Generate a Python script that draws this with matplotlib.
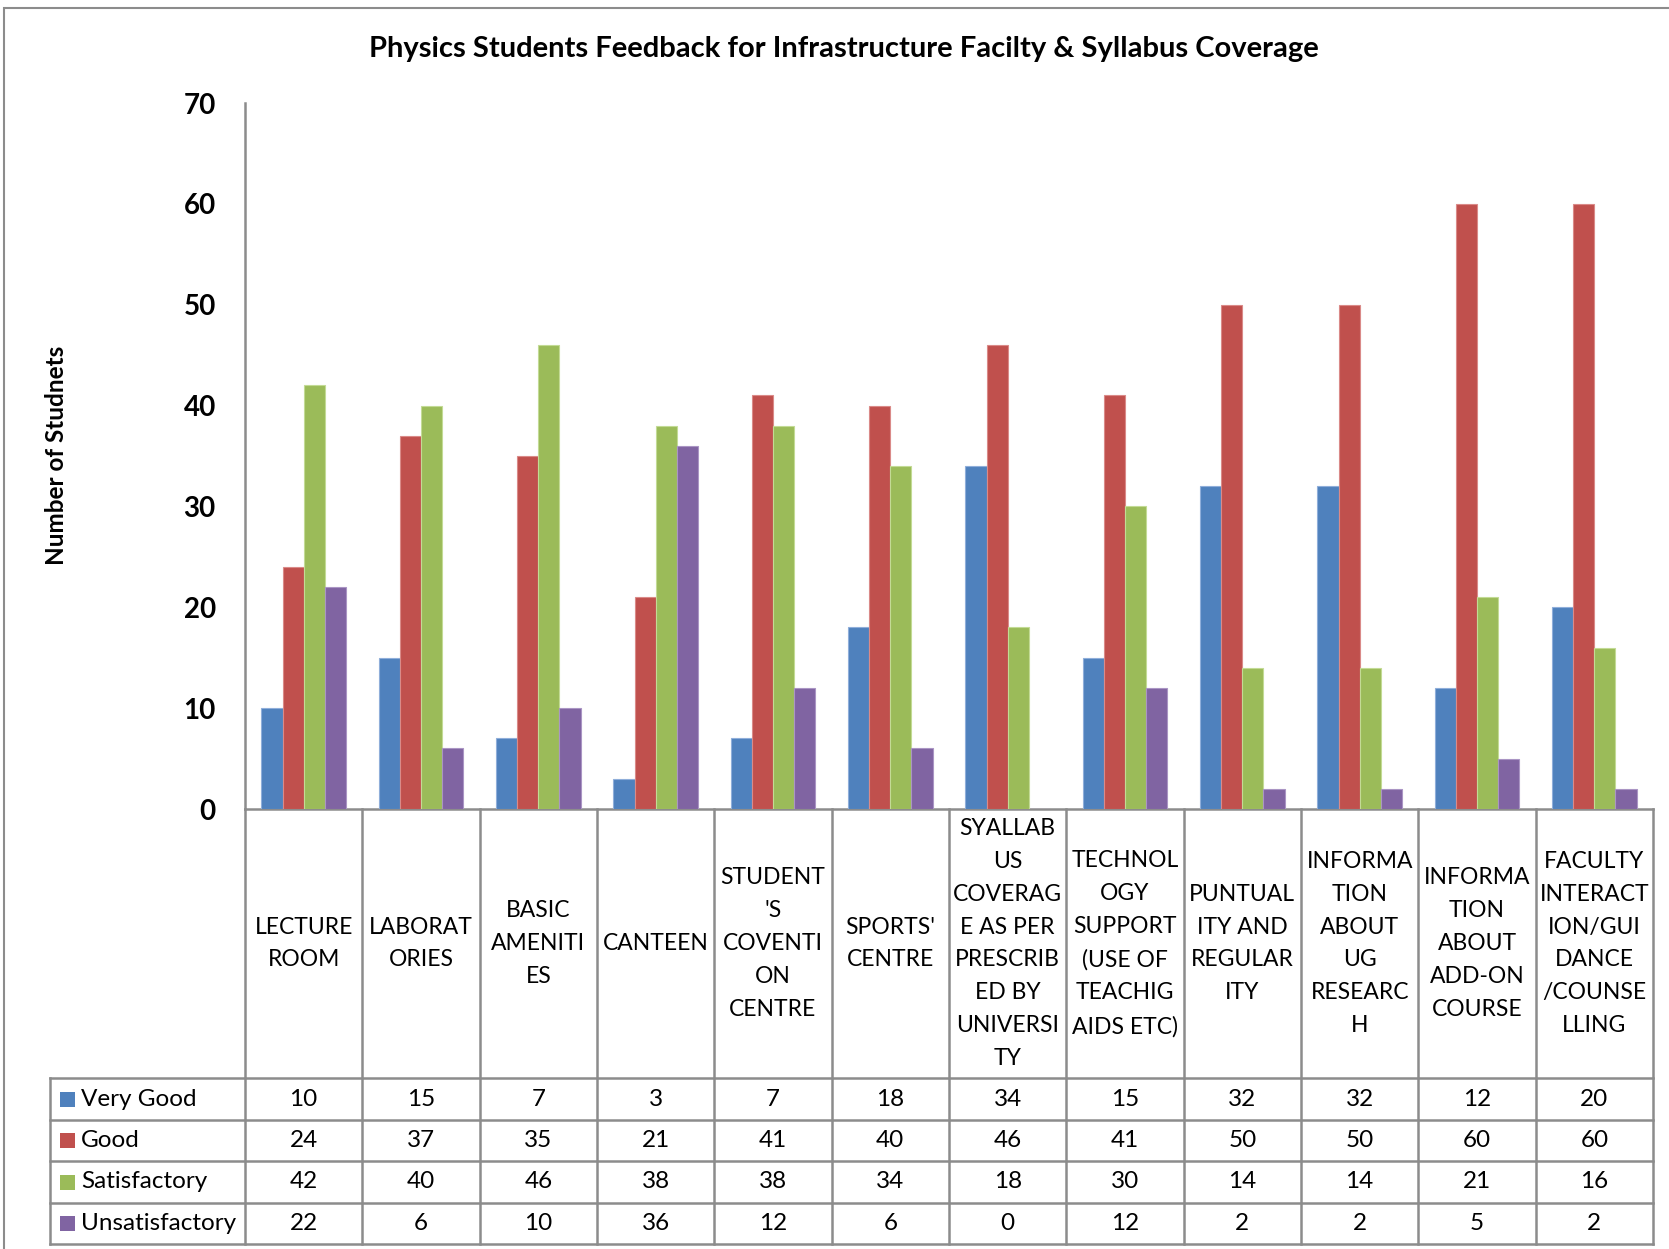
import matplotlib
matplotlib.use("Agg")
import matplotlib.pyplot as plt
import matplotlib.transforms as mtransforms
from matplotlib.patches import Rectangle
from matplotlib.lines import Line2D
import numpy as np

categories = [
    "LECTURE\nROOM",
    "LABORAT\nORIES",
    "BASIC\nAMENITI\nES",
    "CANTEEN",
    "STUDENT\n'S\nCOVENTI\nON\nCENTRE",
    "SPORTS'\nCENTRE",
    "SYALLAB\nUS\nCOVERAG\nE AS PER\nPRESCRIB\nED BY\nUNIVERSI\nTY",
    "TECHNOL\nOGY\nSUPPORT\n(USE OF\nTEACHIG\nAIDS ETC)",
    "PUNTUAL\nITY AND\nREGULAR\nITY",
    "INFORMA\nTION\nABOUT\nUG\nRESEARC\nH",
    "INFORMA\nTION\nABOUT\nADD-ON\nCOURSE",
    "FACULTY\nINTERACT\nION/GUI\nDANCE\n/COUNSE\nLLING",
]
series_names = ["Very Good", "Good", "Satisfactory", "Unsatisfactory"]
very_good = [10, 15, 7, 3, 7, 18, 34, 15, 32, 32, 12, 20]
good = [24, 37, 35, 21, 41, 40, 46, 41, 50, 50, 60, 60]
satisfactory = [42, 40, 46, 38, 38, 34, 18, 30, 14, 14, 21, 16]
unsatisfactory = [22, 6, 10, 36, 12, 6, 0, 12, 2, 2, 5, 2]
yticks = [0, 10, 20, 30, 40, 50, 60, 70]

title = "Physics Students Feedback for Infrastructure Facilty & Syllabus Coverage"
ylabel = "Number of Studnets"

colors = ["#4F81BD", "#C0504D", "#9BBB59", "#8064A2"]
edges = ["#8FAEDA", "#DA8A88", "#C3DB95", "#AA95C4"]

plt.rcParams['font.family'] = ['Lato', 'DejaVu Sans']

W, H = 1669, 1249
fig = plt.figure(figsize=(W / 100, H / 100), dpi=100)

def fx(px):
    return px / W

def fy(py):
    return 1 - py / H

ax_left, ax_right, ax_top, ax_bottom = 245, 1653, 103, 809
ax = fig.add_axes([fx(ax_left), fy(ax_bottom), fx(ax_right - ax_left), (ax_bottom - ax_top) / H])

n = len(categories)
x = np.arange(n)
bw = 0.18
all_series = [very_good, good, satisfactory, unsatisfactory]
for i, (vals, c, ec) in enumerate(zip(all_series, colors, edges)):
    ax.bar(x + (i - 1.5) * bw, vals, width=bw, color=c, edgecolor=ec, linewidth=0.8, zorder=3)

ax.set_xlim(-0.5, n - 0.5)
ax.set_ylim(0, 70)
ax.set_yticks(yticks)
ax.set_yticklabels([str(t) for t in yticks], fontsize=20, fontweight='bold')
ax.tick_params(axis='y', length=0, pad=21)
ax.set_xticks([])
for s in ['top', 'right']:
    ax.spines[s].set_visible(False)
ax.spines['left'].set_color('#8C8C8C')
ax.spines['left'].set_linewidth(1.8)
ax.spines['bottom'].set_color('#8C8C8C')
ax.spines['bottom'].set_linewidth(1.8)

# Title and y label
fig.text(fx(844), fy(49), title, ha='center', va='center', fontsize=21, fontweight='bold')
fig.text(fx(57), fy(455), ylabel, ha='center', va='center', rotation=90,
         fontsize=17.5, fontweight='bold')

# Data table
trans = mtransforms.blended_transform_factory(ax.transData, fig.transFigure)
lc = '#8C8C8C'
lw = 1.8
row_lines = [1078, 1120, 1161, 1203, 1244]
legend_left = 50

for b in np.arange(-0.5, n, 1.0):
    fig.add_artist(Line2D([b, b], [fy(ax_bottom), fy(row_lines[-1])], transform=trans,
                          color=lc, lw=lw))
for ry in row_lines:
    fig.add_artist(Line2D([fx(legend_left), fx(ax_right)], [fy(ry), fy(ry)],
                          transform=fig.transFigure, color=lc, lw=lw))
fig.add_artist(Line2D([fx(legend_left), fx(legend_left)], [fy(row_lines[0]), fy(row_lines[-1])],
                      transform=fig.transFigure, color=lc, lw=lw))

cat_center = (ax_bottom + row_lines[0]) / 2
for i, lab in enumerate(categories):
    fig.text(i, fy(cat_center), lab, transform=trans, ha='center', va='center',
             fontsize=16.5, linespacing=1.7, multialignment='center')

for r, (name, vals, c) in enumerate(zip(series_names, all_series, colors)):
    yc = (row_lines[r] + row_lines[r + 1]) / 2
    fig.add_artist(Rectangle((fx(60), fy(yc + 7.5)), fx(15), 15 / H,
                             transform=fig.transFigure, facecolor=c, edgecolor='none'))
    fig.text(fx(81), fy(yc), name, ha='left', va='center', fontsize=17.5)
    for i, v in enumerate(vals):
        fig.text(i, fy(yc), str(v), transform=trans, ha='center', va='center', fontsize=17.5)

fig.add_artist(Rectangle((fx(4), fy(H + 20)), fx(W + 20), (H + 20 - 8) / H,
                         transform=fig.transFigure, facecolor='none', edgecolor='#8C8C8C', lw=1.5))

fig.savefig("out.png", dpi=100)
